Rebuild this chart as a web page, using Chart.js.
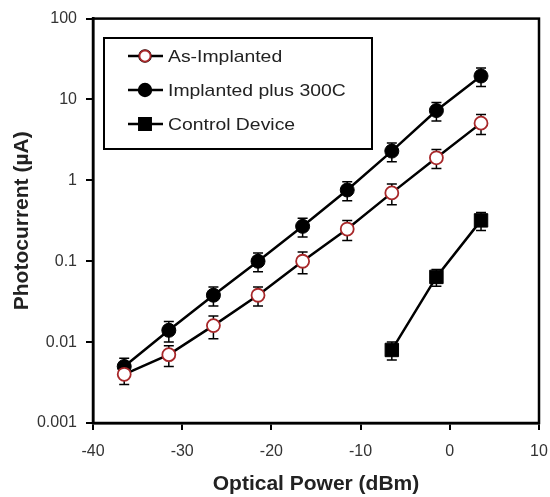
<!DOCTYPE html>
<html>
<head>
<meta charset="utf-8">
<script src="https://cdn.jsdelivr.net/npm/chart.js@4/dist/chart.umd.min.js"></script>
<style>
  html, body { margin: 0; padding: 0; background: #fff; }
  #wrap { width: 550px; height: 497px; }
</style>
</head>
<body>
<div id="wrap"><canvas id="chart" width="550" height="497"></canvas></div>
<script>
// optical power (dBm)
var powerAll = [-36.5, -31.5, -26.5, -21.5, -16.5, -11.5, -6.5, -1.5, 3.5];
var powerControl = [-6.5, -1.5, 3.5];

// photocurrent (uA) and error bars
var asImplanted = [0.004, 0.007, 0.016, 0.038, 0.1, 0.25, 0.7, 1.9, 5.1];
var asImplantedErr = [0.001, 0.002, 0.005, 0.01, 0.03, 0.07, 0.2, 0.5, 1.4];
var implanted300 = [0.005, 0.014, 0.038, 0.1, 0.27, 0.76, 2.3, 7.3, 19.5];
var implanted300Err = [0.0013, 0.004, 0.01, 0.026, 0.07, 0.2, 0.6, 1.9, 5];
var control = [0.008, 0.064, 0.32];
var controlErr = [0.002, 0.015, 0.08];

var seriesNames = ['As-Implanted', 'Implanted plus 300C', 'Control Device'];
var yTicks = [0.001, 0.01, 0.1, 1, 10, 100];

function pts(xs, ys){
  return xs.map(function(x, i){ return {x: x, y: ys[i]} });
}

var errorBars = {
  id: 'errorBars',
  beforeDatasetsDraw: function(chart){
    var ctx = chart.ctx;
    var ys = chart.scales.y;
    ctx.save();
    ctx.strokeStyle = '#000';
    ctx.lineWidth = 1.5;
    chart.data.datasets.forEach(function(ds, i){
      var meta = chart.getDatasetMeta(i);
      meta.data.forEach(function(pt, j){
        var v = ds.data[j].y, e = ds.errors[j];
        var top = ys.getPixelForValue(v + e);
        var bot = ys.getPixelForValue(v - e);
        ctx.beginPath();
        ctx.moveTo(pt.x, top); ctx.lineTo(pt.x, bot);
        ctx.moveTo(pt.x - 5, top); ctx.lineTo(pt.x + 5, top);
        ctx.moveTo(pt.x - 5, bot); ctx.lineTo(pt.x + 5, bot);
        ctx.stroke();
      });
    });
    ctx.restore();
  }
};

var frameAndLegend = {
  id: 'frameAndLegend',
  afterDraw: function(chart){
    var ctx = chart.ctx;
    var a = chart.chartArea;
    ctx.save();
    ctx.strokeStyle = '#000';
    ctx.lineWidth = 2.5;
    ctx.strokeRect(a.left, a.top, a.right - a.left, a.bottom - a.top);

    // legend box
    var bx = 104, by = 38, bw = 268, bh = 111;
    ctx.lineWidth = 2;
    ctx.fillStyle = '#fff';
    ctx.fillRect(bx, by, bw, bh);
    ctx.strokeRect(bx, by, bw, bh);
    var rows = [56, 90, 124];
    chart.data.datasets.forEach(function(ds, i){
      var y = rows[i];
      ctx.beginPath();
      ctx.lineWidth = 2.5;
      ctx.strokeStyle = '#000';
      ctx.moveTo(128, y); ctx.lineTo(163, y);
      ctx.stroke();
      Chart.helpers.drawPoint(ctx, {
        pointStyle: ds.pointStyle,
        radius: ds.pointRadius * 0.85,
        rotation: 0,
        borderWidth: ds.pointBorderWidth
      }, 145, y);
      ctx.fillStyle = ds.pointBackgroundColor;
      ctx.strokeStyle = ds.pointBorderColor;
      ctx.lineWidth = ds.pointBorderWidth;
      ctx.fill();
      ctx.stroke();
      ctx.save();
      ctx.translate(168, y + 1);
      ctx.scale(1.14, 1);
      ctx.fillStyle = '#222';
      ctx.font = '17px "Liberation Sans", Arial, sans-serif';
      ctx.textBaseline = 'middle';
      ctx.textAlign = 'left';
      ctx.fillText(ds.label, 0, 0);
      ctx.restore();
    });
    ctx.restore();
  }
};

new Chart(document.getElementById('chart'), {
  type: 'line',
  data: {
    datasets: [
      {
        label: seriesNames[0],
        data: pts(powerAll, asImplanted),
        errors: asImplantedErr,
        borderColor: '#000', borderWidth: 2.5,
        pointStyle: 'circle', pointRadius: 6.5, pointBorderWidth: 1.8,
        pointBackgroundColor: '#fff', pointBorderColor: '#a8282a'
      },
      {
        label: seriesNames[1],
        data: pts(powerAll, implanted300),
        errors: implanted300Err,
        borderColor: '#000', borderWidth: 2.5,
        pointStyle: 'circle', pointRadius: 7, pointBorderWidth: 1,
        pointBackgroundColor: '#000', pointBorderColor: '#000'
      },
      {
        label: seriesNames[2],
        data: pts(powerControl, control),
        errors: controlErr,
        borderColor: '#000', borderWidth: 2.5,
        pointStyle: 'rect', pointRadius: 9.5, pointBorderWidth: 1,
        pointBackgroundColor: '#000', pointBorderColor: '#000'
      }
    ]
  },
  options: {
    responsive: false,
    animation: false,
    layout: { padding: { left: 6, right: 3, top: 17, bottom: 0 } },
    plugins: { legend: { display: false }, tooltip: { enabled: false } },
    elements: { line: { tension: 0 } },
    scales: {
      x: {
        type: 'linear',
        min: -40, max: 10,
        afterFit: function(s){ s.height = 74; s.paddingRight = 11; },
        ticks: { stepSize: 10, padding: 12, color: '#333', font: { family: '"Liberation Sans", Arial, sans-serif', size: 16 } },
        grid: { drawOnChartArea: false, drawTicks: true, tickLength: 7, color: '#000', lineWidth: 2 },
        border: { display: true, color: '#000', width: 2.5 },
        title: {
          display: true, text: 'Optical Power (dBm)', color: '#222',
          padding: { top: 0, bottom: 0 },
          font: { family: '"Liberation Sans", Arial, sans-serif', size: 21, weight: 'bold' }
        }
      },
      y: {
        type: 'logarithmic',
        min: 0.001, max: 100,
        afterFit: function(s){ s.width = 87; },
        afterBuildTicks: function(s){ s.ticks = yTicks.map(function(v){ return {value: v} }); },
        ticks: {
          padding: 9, color: '#333',
          font: { family: '"Liberation Sans", Arial, sans-serif', size: 16 },
          callback: function(v){ return String(v); }
        },
        grid: { drawOnChartArea: false, drawTicks: true, tickLength: 7, color: '#000', lineWidth: 2 },
        border: { display: true, color: '#000', width: 2.5 },
        title: {
          display: true, text: 'Photocurrent (µA)', color: '#222',
          padding: { top: 4, bottom: 0 },
          font: { family: '"Liberation Sans", Arial, sans-serif', size: 21, weight: 'bold' }
        }
      }
    }
  },
  plugins: [errorBars, frameAndLegend]
});
</script>
</body>
</html>
